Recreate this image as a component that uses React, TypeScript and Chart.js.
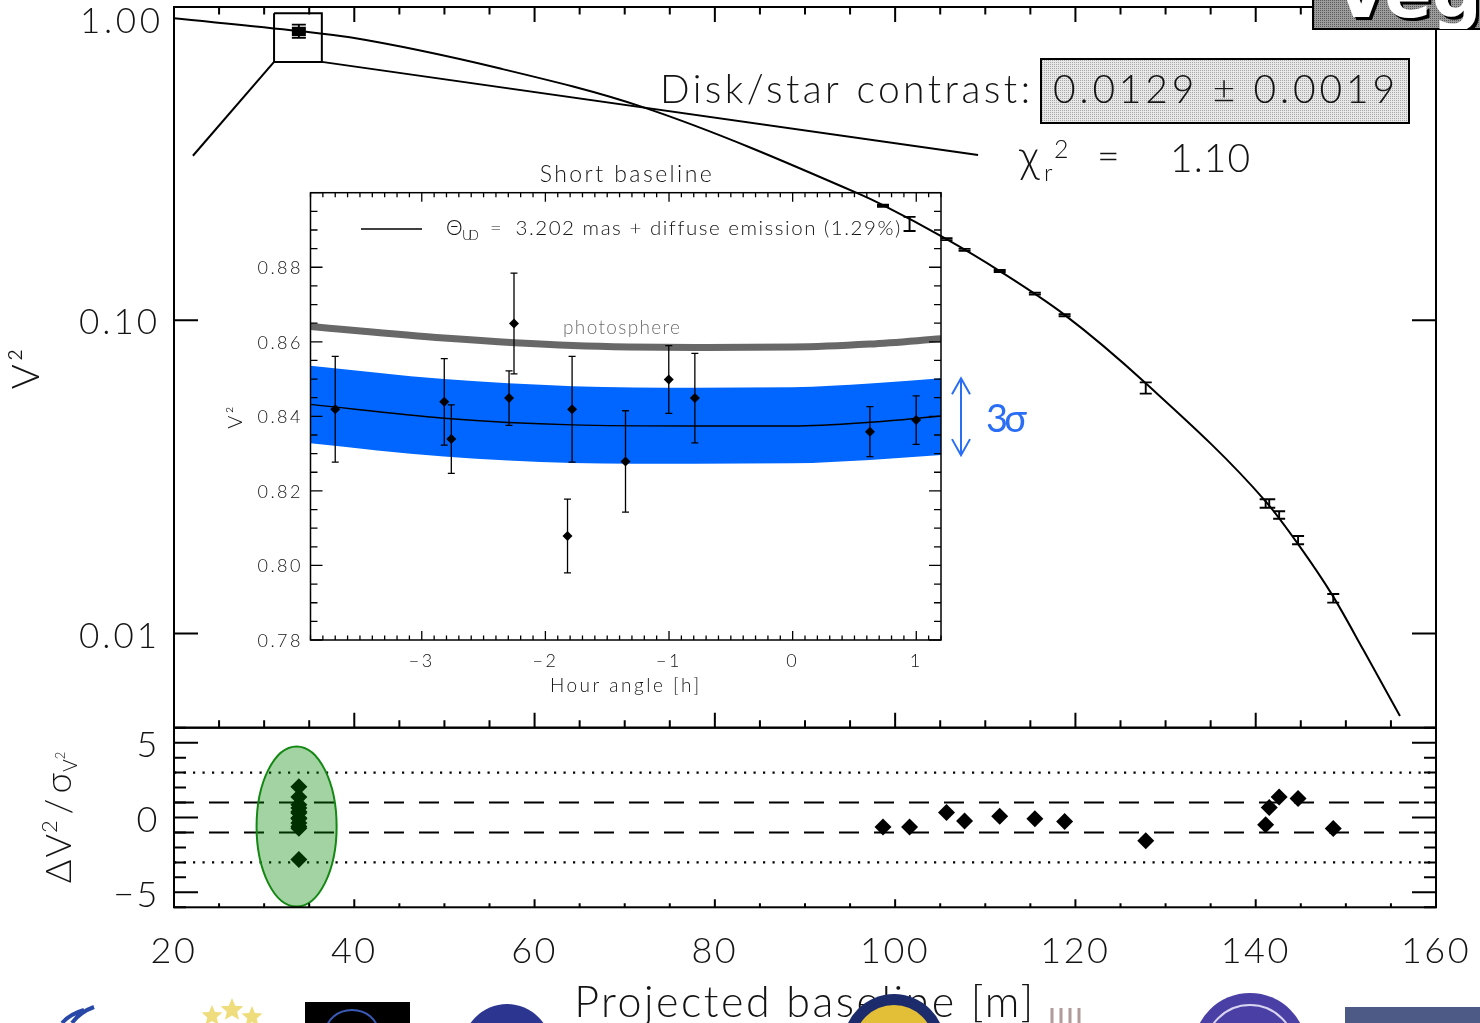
import React, { useEffect, useRef } from 'react';
import { Chart, registerables } from 'chart.js';
Chart.register(...registerables);

// ---------------- data ----------------
// uniform-disk + diffuse emission model curve, V^2 vs projected baseline [m]
const modelBaseline = [20, 33.8, 39.5, 56.2, 72.1, 96, 98.65, 105.75, 111.6, 118.8, 127.8, 141.1, 144.8, 148.5, 152, 156];
const modelV2 = [0.92, 0.838, 0.8, 0.636, 0.478, 0.253, 0.233, 0.1811, 0.1435, 0.104, 0.0629, 0.0264, 0.0191, 0.01325, 0.0088, 0.00545];

// long-baseline measurements
const longBaseline = [98.65, 101.6, 105.7, 107.7, 111.6, 115.5, 118.8, 127.8, 141.1, 141.5, 142.6, 144.7, 148.6];
const longV2 = [0.2319, 0.2032, 0.1815, 0.1677, 0.1436, 0.1216, 0.1038, 0.0608, 0.026, 0.026, 0.02388, 0.01986, 0.01295];
const longV2Err = [0.0017, 0.0106, 0.0013, 0.0012, 0.0011, 0.0009, 0.0008, 0.0025, 0.0008, 0.0008, 0.00066, 0.0006, 0.00041];
const longResidual = [-0.63, -0.63, 0.33, -0.23, 0.09, -0.09, -0.27, -1.56, -0.49, 0.67, 1.37, 1.27, -0.73];

// short-baseline measurements (inset)
const shortBaseline = [33.85, 33.85, 33.85, 33.85, 33.85, 33.85, 33.85, 33.85, 33.85, 33.85, 33.85, 33.85];
const shortHourAngle = [-3.7, -2.818, -2.761, -2.254, -2.294, -1.821, -1.784, -1.352, -1.002, -0.791, 0.625, 0.999];
const shortV2 = [0.8419, 0.8439, 0.8339, 0.8649, 0.8449, 0.8079, 0.8419, 0.8279, 0.8499, 0.8449, 0.8359, 0.839];
const shortV2Err = [0.0142, 0.0116, 0.0092, 0.0135, 0.0073, 0.0099, 0.0142, 0.0136, 0.0091, 0.012, 0.0067, 0.0065];
const shortResidual = [-0.04, 0.38, -0.6, 2.05, 0.86, -2.8, 0.3, -0.71, 1.37, 0.63, -0.37, -0.08];

// inset model, 3-sigma band and photosphere-only model vs hour angle [h]
const insetHourAngle = [-3.9, -2.82, -1.78, -0.79, 0, 0.625, 1.2];
const insetModelV2 = [0.8432, 0.8395, 0.8377, 0.8374, 0.8374, 0.8384, 0.8401];
const insetBandUpper = [0.8536, 0.85, 0.8481, 0.8477, 0.8478, 0.8488, 0.8502];
const insetBandLower = [0.8328, 0.8292, 0.8275, 0.8273, 0.8274, 0.8283, 0.8296];
const photosphereV2 = [0.8641, 0.861, 0.859, 0.8585, 0.8586, 0.8594, 0.8608];

// zoom box around the short-baseline cluster and its connector lines
const zoomBoxBaseline = [31.1, 36.4];
const zoomBoxV2 = [0.955, 0.668];
const connectorBaseline = [22.1, 109.2];
const connectorV2 = [0.335, 0.337];

// highlighted residual group (center and half-axes in data units)
const clusterCenter = [33.6, -0.6];
const clusterHalfAxes = [4.44, 5.35];

// tick labels
const mainTickValues = [1, 0.1, 0.01];
const mainTickLabels = ['1.00', '0.10', '0.01'];
const residualTickValues = [5, 0, -5];
const residualTickLabels = ['5', '0', '\u22125'];

// ---------------- layout & style ----------------
const W = 1480;
const H = 1023;
const FAMILY = 'Lato, "Noto Sans", "DejaVu Sans", sans-serif';
const INK = '#141414';
const BLUE = '#2a6ef5';

function setFont(ctx: CanvasRenderingContext2D, size: number, weight = 300) {
  ctx.font = `${weight} ${size}px ${FAMILY}`;
}

function drawText(
  ctx: CanvasRenderingContext2D,
  text: string,
  x: number,
  y: number,
  size: number,
  opts: { width?: number; align?: 'left' | 'center' | 'right'; color?: string; weight?: number } = {}
) {
  ctx.save();
  setFont(ctx, size, opts.weight ?? 300);
  ctx.fillStyle = opts.color ?? INK;
  ctx.textBaseline = 'alphabetic';
  ctx.textAlign = 'left';
  (ctx as any).letterSpacing = '0px';
  const w0 = ctx.measureText(text).width;
  const n = Array.from(text).length;
  let ls = 0;
  if (opts.width && n > 1) ls = (opts.width - w0) / (n - 1);
  (ctx as any).letterSpacing = `${ls}px`;
  const total = w0 + ls * (n - 1);
  let x0 = x;
  if (opts.align === 'center') x0 = x - total / 2;
  else if (opts.align === 'right') x0 = x - total;
  ctx.fillText(text, x0, y);
  ctx.restore();
  return x0 + total;
}

function makePattern(ctx: CanvasRenderingContext2D, base: string, dot: string) {
  const p = document.createElement('canvas');
  p.width = 2;
  p.height = 2;
  const g = p.getContext('2d')!;
  g.fillStyle = base;
  g.fillRect(0, 0, 2, 2);
  g.fillStyle = dot;
  g.fillRect(0, 0, 1, 1);
  return ctx.createPattern(p, 'repeat')!;
}

function errorBars(ctx: CanvasRenderingContext2D, xs: any, ys: any, xv: number[], yv: number[], ev: number[], cap: number, lw: number) {
  ctx.save();
  ctx.strokeStyle = '#000';
  ctx.lineWidth = lw;
  ctx.beginPath();
  for (let i = 0; i < xv.length; i++) {
    const px = xs.getPixelForValue(xv[i]);
    const y1 = ys.getPixelForValue(yv[i] + ev[i]);
    const y2 = ys.getPixelForValue(yv[i] - ev[i]);
    ctx.moveTo(px, y1);
    ctx.lineTo(px, y2);
    ctx.moveTo(px - cap, y1);
    ctx.lineTo(px + cap, y1);
    ctx.moveTo(px - cap, y2);
    ctx.lineTo(px + cap, y2);
  }
  ctx.stroke();
  ctx.restore();
}

function pts(xv: number[], yv: number[]) {
  return xv.map((x, i) => ({ x, y: yv[i] }));
}

const spacingPlugin = (ls: number) => ({
  id: 'spacing',
  beforeDraw(chart: any) {
    chart.ctx.letterSpacing = `${ls}px`;
  },
  afterDraw(chart: any) {
    chart.ctx.letterSpacing = '0px';
  },
});

function fixAxis(size: number, horizontal: boolean) {
  return (s: any) => {
    if (horizontal) s.height = size;
    else s.width = size;
    s.paddingTop = 0;
    s.paddingBottom = 0;
    s.paddingLeft = 0;
    s.paddingRight = 0;
  };
}

const lineDs = (data: any[], extra: any = {}) => ({
  data,
  showLine: true,
  pointRadius: 0,
  borderColor: '#000',
  borderWidth: 2,
  tension: 0,
  ...extra,
});

// ---------------- main panel ----------------
function buildMain(canvas: HTMLCanvasElement) {
  const decor = {
    id: 'mainDecor',
    afterDatasetsDraw(chart: any) {
      const { ctx, scales } = chart;
      errorBars(ctx, scales.x, scales.y, longBaseline, longV2, longV2Err, 6, 1.9);
      errorBars(ctx, scales.x, scales.y, shortBaseline, shortV2, shortV2Err, 7, 1.9);
    },
    afterDraw(chart: any) {
      const { ctx, chartArea: a, scales } = chart;
      const x = scales.x;
      const y = scales.y;
      ctx.save();
      ctx.strokeStyle = '#000';
      ctx.lineWidth = 2;
      ctx.strokeRect(a.left, a.top, a.right - a.left, a.bottom - a.top);
      ctx.beginPath();
      for (let v = 20; v <= 160; v += 5) {
        const px = x.getPixelForValue(v);
        const len = v % 20 === 0 ? 15 : 7.5;
        ctx.moveTo(px, a.top);
        ctx.lineTo(px, a.top + len);
        ctx.moveTo(px, a.bottom);
        ctx.lineTo(px, a.bottom - len);
      }
      for (const t of y.ticks) {
        const py = y.getPixelForValue(t.value);
        const lg = Math.log10(t.value);
        const len = Math.abs(lg - Math.round(lg)) < 1e-6 ? 24 : 12;
        ctx.moveTo(a.left, py);
        ctx.lineTo(a.left + len, py);
        ctx.moveTo(a.right, py);
        ctx.lineTo(a.right - len, py);
      }
      ctx.stroke();
      ctx.restore();

      // top label of the log axis (kept inside the page like the original)
      drawText(ctx, mainTickLabels[0], a.left - 14, 33, 35, { width: 80, align: 'right' });

      // contrast annotation
      drawText(ctx, 'Disk/star contrast:', 660, 103, 39, { width: 370 });
      ctx.save();
      ctx.fillStyle = makePattern(ctx, '#e8e8e8', '#a8a8a8');
      ctx.fillRect(1041, 59, 368, 64);
      ctx.strokeStyle = '#000';
      ctx.lineWidth = 2;
      ctx.strokeRect(1041, 59, 368, 64);
      ctx.restore();
      drawText(ctx, '0.0129 \u00b1 0.0019', 1053, 103, 39, { width: 342 });

      // reduced chi2
      drawText(ctx, '\u03c7', 1019, 172, 44);
      drawText(ctx, 'r', 1044, 181, 24);
      drawText(ctx, '2', 1054, 158, 25);
      drawText(ctx, '=', 1097, 170, 39);
      drawText(ctx, '1.10', 1170, 172, 39, { width: 80 });

      // star name tag (top right, cropped)
      ctx.save();
      ctx.beginPath();
      ctx.rect(1313, -4, 180, 33);
      ctx.fillStyle = makePattern(ctx, '#9c9c9c', '#5a5a5a');
      ctx.fill();
      ctx.strokeStyle = '#000';
      ctx.lineWidth = 2;
      ctx.stroke();
      ctx.clip();
      ctx.font = `bold 70px "DejaVu Sans", sans-serif`;
      ctx.textBaseline = 'alphabetic';
      ctx.fillStyle = '#000';
      ctx.fillText('Vega', 1337, 20);
      ctx.fillStyle = '#fff';
      ctx.fillText('Vega', 1334, 17);
      ctx.restore();
    },
  };

  return new Chart(canvas, {
    type: 'scatter',
    data: {
      datasets: [
        lineDs(pts(modelBaseline, modelV2), { cubicInterpolationMode: 'monotone', borderWidth: 2 }),
        lineDs(
          [
            { x: zoomBoxBaseline[0], y: zoomBoxV2[0] },
            { x: zoomBoxBaseline[1], y: zoomBoxV2[0] },
            { x: zoomBoxBaseline[1], y: zoomBoxV2[1] },
            { x: zoomBoxBaseline[0], y: zoomBoxV2[1] },
            { x: zoomBoxBaseline[0], y: zoomBoxV2[0] },
          ],
          { borderWidth: 2 }
        ),
        lineDs([
          { x: connectorBaseline[0], y: connectorV2[0] },
          { x: zoomBoxBaseline[0], y: zoomBoxV2[1] },
        ]),
        lineDs([
          { x: zoomBoxBaseline[1], y: zoomBoxV2[1] },
          { x: connectorBaseline[1], y: connectorV2[1] },
        ]),
      ],
    },
    options: {
      responsive: false,
      animation: false,
      devicePixelRatio: 1,
      events: [],
      layout: { padding: { left: 0, top: 7, right: 44, bottom: 295.3 } },
      plugins: { legend: { display: false }, tooltip: { enabled: false } },
      scales: {
        x: { type: 'linear', min: 20, max: 160, display: false },
        y: {
          type: 'logarithmic',
          min: 0.005,
          max: 1,
          position: 'left',
          grid: { display: false, drawTicks: false },
          border: { display: false },
          ticks: {
            autoSkip: false,
            padding: 14,
            labelOffset: 3,
            color: INK,
            font: { family: FAMILY, size: 35, weight: '300' as any },
            callback: (v: any) => {
              for (let i = 1; i < mainTickValues.length; i++) {
                if (Math.abs(v - mainTickValues[i]) < 1e-9) return mainTickLabels[i];
              }
              return null as any;
            },
          },
          title: {
            display: true,
            text: 'V\u00b2',
            color: INK,
            font: { family: FAMILY, size: 38, weight: '300' as any, lineHeight: 1 },
            padding: { top: 8, bottom: 0 },
          },
          afterFit: fixAxis(174, false),
        },
      },
    } as any,
    plugins: [spacingPlugin(3), decor],
  });
}

// ---------------- residual panel ----------------
function drawLogos(ctx: CanvasRenderingContext2D) {
  ctx.save();
  ctx.strokeStyle = '#2848a8';
  ctx.lineWidth = 4;
  ctx.beginPath();
  ctx.moveTo(72, 1023);
  ctx.quadraticCurveTo(80, 1012, 94, 1007);
  ctx.moveTo(62, 1023);
  ctx.quadraticCurveTo(70, 1014, 84, 1010);
  ctx.stroke();
  const star = (cx: number, cy: number, r: number) => {
    ctx.beginPath();
    for (let i = 0; i < 10; i++) {
      const an = -Math.PI / 2 + (i * Math.PI) / 5;
      const rr = i % 2 ? r * 0.45 : r;
      ctx.lineTo(cx + rr * Math.cos(an), cy + rr * Math.sin(an));
    }
    ctx.closePath();
    ctx.fill();
  };
  ctx.fillStyle = '#efdc7c';
  star(212, 1016, 11);
  star(232, 1010, 12);
  star(252, 1017, 11);
  ctx.fillStyle = '#000';
  ctx.fillRect(305, 1002, 105, 21);
  ctx.strokeStyle = '#3a5ab8';
  ctx.lineWidth = 2;
  ctx.beginPath();
  ctx.ellipse(352, 1032, 26, 22, 0, Math.PI, 2 * Math.PI);
  ctx.stroke();
  ctx.fillStyle = '#2c3590';
  ctx.beginPath();
  ctx.ellipse(507, 1050, 45, 46, 0, 0, 2 * Math.PI);
  ctx.fill();
  ctx.fillStyle = '#1c2b6b';
  ctx.beginPath();
  ctx.arc(894, 1045, 51, 0, 2 * Math.PI);
  ctx.fill();
  ctx.fillStyle = '#e2bf36';
  ctx.beginPath();
  ctx.arc(894, 1045, 40, 0, 2 * Math.PI);
  ctx.fill();
  ctx.strokeStyle = '#b09a9a';
  ctx.lineWidth = 3;
  ctx.beginPath();
  for (const px of [1052, 1061, 1070, 1079]) {
    ctx.moveTo(px, 1023);
    ctx.lineTo(px, 1008);
  }
  ctx.stroke();
  ctx.fillStyle = '#4a3fa5';
  ctx.beginPath();
  ctx.arc(1250, 1050, 57, 0, 2 * Math.PI);
  ctx.fill();
  ctx.strokeStyle = '#d8d4f0';
  ctx.lineWidth = 2;
  ctx.beginPath();
  ctx.arc(1250, 1050, 45, 0, 2 * Math.PI);
  ctx.stroke();
  ctx.fillStyle = '#4d5a86';
  ctx.fillRect(1345, 1007, 135, 16);
  ctx.restore();
}

function buildResidual(canvas: HTMLCanvasElement) {
  const decor = {
    id: 'resDecor',
    afterDatasetsDraw(chart: any) {
      const { ctx, scales } = chart;
      const x = scales.x;
      const y = scales.y;
      const cx = x.getPixelForValue(clusterCenter[0]);
      const cy = y.getPixelForValue(clusterCenter[1]);
      const rx = Math.abs(x.getPixelForValue(clusterCenter[0] + clusterHalfAxes[0]) - cx);
      const ry = Math.abs(y.getPixelForValue(clusterCenter[1] + clusterHalfAxes[1]) - cy);
      ctx.save();
      ctx.beginPath();
      ctx.ellipse(cx, cy, rx, ry, 0, 0, 2 * Math.PI);
      ctx.fillStyle = 'rgba(0, 130, 0, 0.36)';
      ctx.fill();
      ctx.strokeStyle = '#138813';
      ctx.lineWidth = 2;
      ctx.stroke();
      ctx.restore();
    },
    afterDraw(chart: any) {
      const { ctx, chartArea: a, scales } = chart;
      const x = scales.x;
      const y = scales.y;
      ctx.save();
      ctx.strokeStyle = '#000';
      ctx.lineWidth = 2;
      ctx.strokeRect(a.left, a.top, a.right - a.left, a.bottom - a.top);
      ctx.beginPath();
      for (let v = 20; v <= 160; v += 5) {
        const px = x.getPixelForValue(v);
        const len = v % 20 === 0 ? 8 : 4;
        ctx.moveTo(px, a.bottom);
        ctx.lineTo(px, a.bottom - len);
      }
      for (let v = -6; v <= 6; v += 1) {
        const py = y.getPixelForValue(v);
        const len = v % 5 === 0 ? 24 : 12;
        ctx.moveTo(a.left, py);
        ctx.lineTo(a.left + len, py);
        ctx.moveTo(a.right, py);
        ctx.lineTo(a.right - len, py);
      }
      ctx.stroke();
      ctx.restore();

      // y title: ΔV²/σ_V²
      ctx.save();
      ctx.translate(71, (a.top + a.bottom) / 2);
      ctx.rotate(-Math.PI / 2);
      ctx.fillStyle = INK;
      ctx.textBaseline = 'alphabetic';
      const parts: [string, number, number, number][] = [
        ['\u0394', 36, 0, 2],
        ['V', 36, 0, 1],
        ['2', 22, -14, 6],
        ['/', 36, 0, 5],
        ['\u03c3', 36, 0, 1],
        ['V', 19, 6, 0],
        ['2', 13, -6, 0],
      ];
      let total = 0;
      const widths: number[] = [];
      for (const [t, s, , gap] of parts) {
        setFont(ctx, s);
        const w = ctx.measureText(t).width;
        widths.push(w);
        total += w + gap;
      }
      let cxp = -total / 2;
      parts.forEach(([t, s, dy, gap], i) => {
        setFont(ctx, s);
        ctx.fillText(t, cxp, dy);
        cxp += widths[i] + gap;
      });
      ctx.restore();

      drawLogos(ctx);
    },
  };

  return new Chart(canvas, {
    type: 'scatter',
    data: {
      datasets: [
        {
          data: pts(shortBaseline, shortResidual),
          pointStyle: 'rectRot',
          pointRadius: 8.5,
          backgroundColor: '#000',
          borderWidth: 0,
        },
        {
          data: pts(longBaseline, longResidual),
          pointStyle: 'rectRot',
          pointRadius: 8.5,
          backgroundColor: '#000',
          borderWidth: 0,
        },
        lineDs([{ x: 20, y: 1 }, { x: 160, y: 1 }], { borderDash: [20, 15] }),
        lineDs([{ x: 20, y: -1 }, { x: 160, y: -1 }], { borderDash: [20, 15] }),
        lineDs([{ x: 20, y: 3 }, { x: 160, y: 3 }], { borderDash: [2.2, 7.3], borderWidth: 2.4 }),
        lineDs([{ x: 20, y: -3 }, { x: 160, y: -3 }], { borderDash: [2.2, 7.3], borderWidth: 2.4 }),
      ],
    },
    options: {
      responsive: false,
      animation: false,
      devicePixelRatio: 1,
      events: [],
      layout: { padding: { left: 0, top: 727.7, right: 44, bottom: 0 } },
      plugins: { legend: { display: false }, tooltip: { enabled: false } },
      scales: {
        x: {
          type: 'linear',
          min: 20,
          max: 160,
          position: 'bottom',
          grid: { display: false, drawTicks: false },
          border: { display: false },
          ticks: {
            stepSize: 20,
            autoSkip: false,
            padding: 22,
            color: INK,
            font: { family: FAMILY, size: 36, weight: '300' as any },
          },
          title: {
            display: true,
            text: 'Projected baseline [m]',
            color: INK,
            font: { family: FAMILY, size: 43, weight: '300' as any, lineHeight: 1 },
            padding: { top: 0, bottom: -2 },
          },
          afterFit: fixAxis(115.7, true),
        },
        y: {
          type: 'linear',
          min: -6,
          max: 6,
          position: 'left',
          grid: { display: false, drawTicks: false },
          border: { display: false },
          ticks: {
            stepSize: 1,
            autoSkip: false,
            padding: 14,
            labelOffset: 3,
            color: INK,
            font: { family: FAMILY, size: 36, weight: '300' as any },
            callback: (v: any) => {
              const i = residualTickValues.indexOf(Math.round(v));
              return i >= 0 && Math.abs(v - Math.round(v)) < 1e-9 ? residualTickLabels[i] : (null as any);
            },
          },
          afterFit: fixAxis(174, false),
        },
      },
    } as any,
    plugins: [spacingPlugin(2.5), decor],
  });
}

// ---------------- inset ----------------
function buildInset(canvas: HTMLCanvasElement) {
  const decor = {
    id: 'insetDecor',
    afterDatasetsDraw(chart: any) {
      const { ctx, scales } = chart;
      errorBars(ctx, scales.x, scales.y, shortHourAngle, shortV2, shortV2Err, 3.5, 1.3);
    },
    afterDraw(chart: any) {
      const { ctx, chartArea: a, scales } = chart;
      const x = scales.x;
      const y = scales.y;
      ctx.save();
      ctx.strokeStyle = '#000';
      ctx.lineWidth = 1.5;
      ctx.strokeRect(a.left, a.top, a.right - a.left, a.bottom - a.top);
      ctx.lineWidth = 1.3;
      ctx.beginPath();
      for (let k = -39; k <= 12; k++) {
        const px = x.getPixelForValue(k / 10);
        const len = k % 10 === 0 ? 9 : 4.5;
        ctx.moveTo(px, a.top);
        ctx.lineTo(px, a.top + len);
        ctx.moveTo(px, a.bottom);
        ctx.lineTo(px, a.bottom - len);
      }
      for (let k = 156; k <= 180; k++) {
        const py = y.getPixelForValue(k * 0.005);
        const len = k % 4 === 0 ? 12 : 7;
        ctx.moveTo(a.left, py);
        ctx.lineTo(a.left + len, py);
        ctx.moveTo(a.right, py);
        ctx.lineTo(a.right - len, py);
      }
      ctx.stroke();

      // legend
      ctx.beginPath();
      ctx.moveTo(361, 229);
      ctx.lineTo(422, 229);
      ctx.stroke();
      ctx.restore();
      drawText(ctx, '\u0398', 446, 235, 21);
      drawText(ctx, 'UD', 462, 239.5, 14, { width: 17 });
      drawText(ctx, '=', 490, 235, 20);
      drawText(ctx, '3.202 mas + diffuse emission (1.29%)', 515.5, 235, 20.5, { width: 384 });

      // title
      drawText(ctx, 'Short baseline', (a.left + a.right) / 2, 181.5, 23, { width: 172, align: 'center' });

      // photosphere label
      drawText(ctx, 'photosphere', 563, 334, 19, { width: 117, color: '#6e6e6e' });

      // 3 sigma arrow tied to the band edges at the right end
      const n = insetHourAngle.length - 1;
      const yTop = y.getPixelForValue(insetBandUpper[n]);
      const yBot = y.getPixelForValue(insetBandLower[n]);
      const ax = a.right + 20;
      ctx.save();
      ctx.strokeStyle = BLUE;
      ctx.lineWidth = 2;
      ctx.beginPath();
      ctx.moveTo(ax, yTop);
      ctx.lineTo(ax, yBot);
      ctx.moveTo(ax - 9, yTop + 16);
      ctx.lineTo(ax, yTop);
      ctx.lineTo(ax + 9, yTop + 16);
      ctx.moveTo(ax - 9, yBot - 16);
      ctx.lineTo(ax, yBot);
      ctx.lineTo(ax + 9, yBot - 16);
      ctx.stroke();
      ctx.restore();
      drawText(ctx, '3\u03c3', 986, 432, 38, { width: 41, color: BLUE, weight: 400 });
    },
  };

  return new Chart(canvas, {
    type: 'scatter',
    data: {
      datasets: [
        {
          data: pts(shortHourAngle, shortV2),
          pointStyle: 'rectRot',
          pointRadius: 5,
          backgroundColor: '#000',
          borderWidth: 0,
        },
        lineDs(pts(insetHourAngle, insetModelV2), { borderWidth: 1.4, cubicInterpolationMode: 'monotone' }),
        lineDs(pts(insetHourAngle, photosphereV2), {
          borderWidth: 7,
          borderColor: '#686868',
          cubicInterpolationMode: 'monotone',
        }),
        lineDs(pts(insetHourAngle, insetBandUpper), {
          borderWidth: 0,
          borderColor: 'rgba(0,0,0,0)',
          backgroundColor: '#0066ff',
          fill: '+1',
          cubicInterpolationMode: 'monotone',
        }),
        lineDs(pts(insetHourAngle, insetBandLower), {
          borderWidth: 0,
          borderColor: 'rgba(0,0,0,0)',
          cubicInterpolationMode: 'monotone',
        }),
      ],
    },
    options: {
      responsive: false,
      animation: false,
      devicePixelRatio: 1,
      events: [],
      layout: { padding: { left: 200, top: 192.7, right: 539, bottom: 313 } },
      plugins: { legend: { display: false }, tooltip: { enabled: false } },
      scales: {
        x: {
          type: 'linear',
          min: -3.9,
          max: 1.2,
          position: 'bottom',
          grid: { display: false, drawTicks: false },
          border: { display: false },
          ticks: {
            stepSize: 1,
            includeBounds: false,
            autoSkip: false,
            padding: 10,
            color: INK,
            font: { family: FAMILY, size: 18, weight: '300' as any },
            callback: (v: any) => (v < 0 ? '\u2212' + Math.abs(v) : String(v)),
          },
          title: {
            display: true,
            text: 'Hour angle [h]',
            color: INK,
            font: { family: FAMILY, size: 19, weight: '300' as any, lineHeight: 1 },
            padding: { top: 0, bottom: 14.5 },
          },
          afterFit: fixAxis(70, true),
        },
        y: {
          type: 'linear',
          min: 0.78,
          max: 0.9,
          position: 'left',
          grid: { display: false, drawTicks: false },
          border: { display: false },
          ticks: {
            stepSize: 0.02,
            autoSkip: false,
            padding: 7.5,
            labelOffset: 1,
            color: INK,
            font: { family: FAMILY, size: 18, weight: '300' as any },
            callback: (v: any) => (v > 0.895 ? (null as any) : Number(v).toFixed(2)),
          },
          title: {
            display: true,
            text: 'V\u00b2',
            color: INK,
            font: { family: FAMILY, size: 20, weight: '300' as any, lineHeight: 1 },
            padding: { top: 26, bottom: 0 },
          },
          afterFit: fixAxis(110.5, false),
        },
      },
    } as any,
    plugins: [spacingPlugin(2.5), decor],
  });
}

export default function App() {
  const mainRef = useRef<HTMLCanvasElement>(null);
  const resRef = useRef<HTMLCanvasElement>(null);
  const insetRef = useRef<HTMLCanvasElement>(null);

  useEffect(() => {
    const charts = [
      buildMain(mainRef.current!),
      buildResidual(resRef.current!),
      buildInset(insetRef.current!),
    ];
    return () => charts.forEach((c) => c.destroy());
  }, []);

  const cs: React.CSSProperties = { position: 'absolute', left: 0, top: 0, width: W, height: H };
  return (
    <div style={{ position: 'absolute', left: 0, top: 0, width: W, height: H, background: '#fff', overflow: 'hidden' }}>
      <canvas ref={mainRef} width={W} height={H} style={cs} />
      <canvas ref={resRef} width={W} height={H} style={cs} />
      <canvas ref={insetRef} width={W} height={H} style={cs} />
    </div>
  );
}
